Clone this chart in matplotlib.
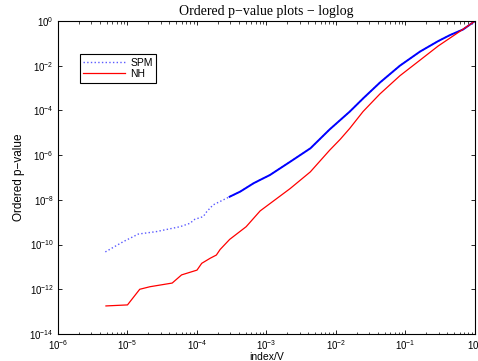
import numpy as np
import matplotlib
matplotlib.use('Agg')
import matplotlib.pyplot as plt
from matplotlib import font_manager
from matplotlib.ticker import LogLocator, LogFormatterSciNotation, NullFormatter, NullLocator

# SPM ordered p-values
spm_x = [4.8e-6, 8.7e-6, 1.43e-5, 2.6e-5, 5.7e-5, 7.9e-5, 9.3e-5, 1.23e-4, 1.38e-4, 1.7e-4,
         2.95e-4, 4.2e-4, 6.5e-4, 8.1e-4, 1.12e-3, 2.2e-3, 4.3e-3, 8.1e-3, 1.58e-2, 2.47e-2,
         4.3e-2, 8.3e-2, 0.162, 0.295, 0.436, 0.676, 1.0]
spm_y = [4.7e-11, 1.35e-10, 2.95e-10, 3.8e-10, 6.3e-10, 8.9e-10, 1.35e-9, 1.78e-9, 2.95e-9, 5.9e-9,
         1.38e-8, 2.35e-8, 5.5e-8, 7.8e-8, 1.29e-7, 5.1e-7, 2.04e-6, 1.41e-5, 8.9e-5, 3.5e-4,
         1.78e-3, 1.0e-2, 4.3e-2, 0.126, 0.234, 0.42, 1.0]

# NH ordered p-values
nh_x = [4.9e-6, 1.0e-5, 1.5e-5, 2.1e-5, 4.4e-5, 6.0e-5, 1.0e-4, 1.17e-4, 1.55e-4, 1.9e-4,
        2.15e-4, 2.95e-4, 5.1e-4, 8.1e-4, 2.19e-3, 4.27e-3, 8.1e-3, 1.15e-2, 1.58e-2, 2.45e-2,
        4.27e-2, 8.3e-2, 0.162, 0.295, 0.55, 1.0]
nh_y = [1.8e-13, 2.0e-13, 1.0e-12, 1.3e-12, 1.9e-12, 4.4e-12, 7.2e-12, 1.45e-11, 2.45e-11, 3.4e-11,
        6.0e-11, 1.7e-10, 6.3e-10, 3.2e-9, 3.2e-8, 1.78e-7, 1.66e-6, 5.1e-6, 1.58e-5, 8.9e-5,
        5.4e-4, 3.55e-3, 1.78e-2, 7.6e-2, 0.28, 1.0]

# drop the Narrow variant so 'Liberation Sans' resolves to the regular width
font_manager.fontManager.ttflist = [f for f in font_manager.fontManager.ttflist
                                    if 'Narrow' not in f.fname]
plt.rcParams['font.family'] = ['Liberation Sans', 'DejaVu Sans']
plt.rcParams['mathtext.default'] = 'regular'

fig = plt.figure(figsize=(4.78, 3.61), dpi=100)
ax = fig.add_axes([0.1213, 0.0748, 0.8724, 0.867])

ax.loglog(spm_x, spm_y, color='#5a5aff', linestyle=':', linewidth=1.0, label='SPM')
# dense part of the SPM curve renders as a solid line in the original
k = spm_x.index(2.95e-4)
ax.loglog(spm_x[k:], spm_y[k:], color='#0000ff', linestyle='-', linewidth=1.4)
ax.loglog(nh_x, nh_y, color='#ff0000', linestyle='-', linewidth=0.9, label='NH')

ax.set_xlim(1e-6, 1)
ax.set_ylim(1e-14, 1)

ax.xaxis.set_major_locator(LogLocator(base=10, numticks=10))
ax.xaxis.set_minor_locator(LogLocator(base=10, subs=np.arange(2, 10), numticks=20))
ax.xaxis.set_minor_formatter(NullFormatter())
ax.set_yticks([10.0**e for e in range(-14, 1, 2)])
ax.yaxis.set_major_formatter(LogFormatterSciNotation())
ax.yaxis.set_minor_locator(NullLocator())

ax.tick_params(which='both', direction='in', top=True, right=True, labelsize=7)
ax.tick_params(which='major', length=3, width=0.6, pad=3)
ax.tick_params(which='minor', length=1.8, width=0.5)
for s in ax.spines.values():
    s.set_linewidth(0.8)

ax.set_title('Ordered p\u2212value plots \u2212 loglog', family='Liberation Serif', fontsize=10, pad=4)
ax.set_xlabel('index/V', fontsize=7.5, labelpad=0)
ax.set_ylabel('Ordered p\u2212value', fontsize=8.5, labelpad=3)

leg = ax.legend(loc='upper left', bbox_to_anchor=(0.052, 0.895), fontsize=7.5, fancybox=False,
                framealpha=1, edgecolor='black', borderpad=0.35, handlelength=4.0,
                labelspacing=0.15, handletextpad=0.5, borderaxespad=0)
leg.get_frame().set_linewidth(0.8)

fig.savefig('out.png', dpi=100)
